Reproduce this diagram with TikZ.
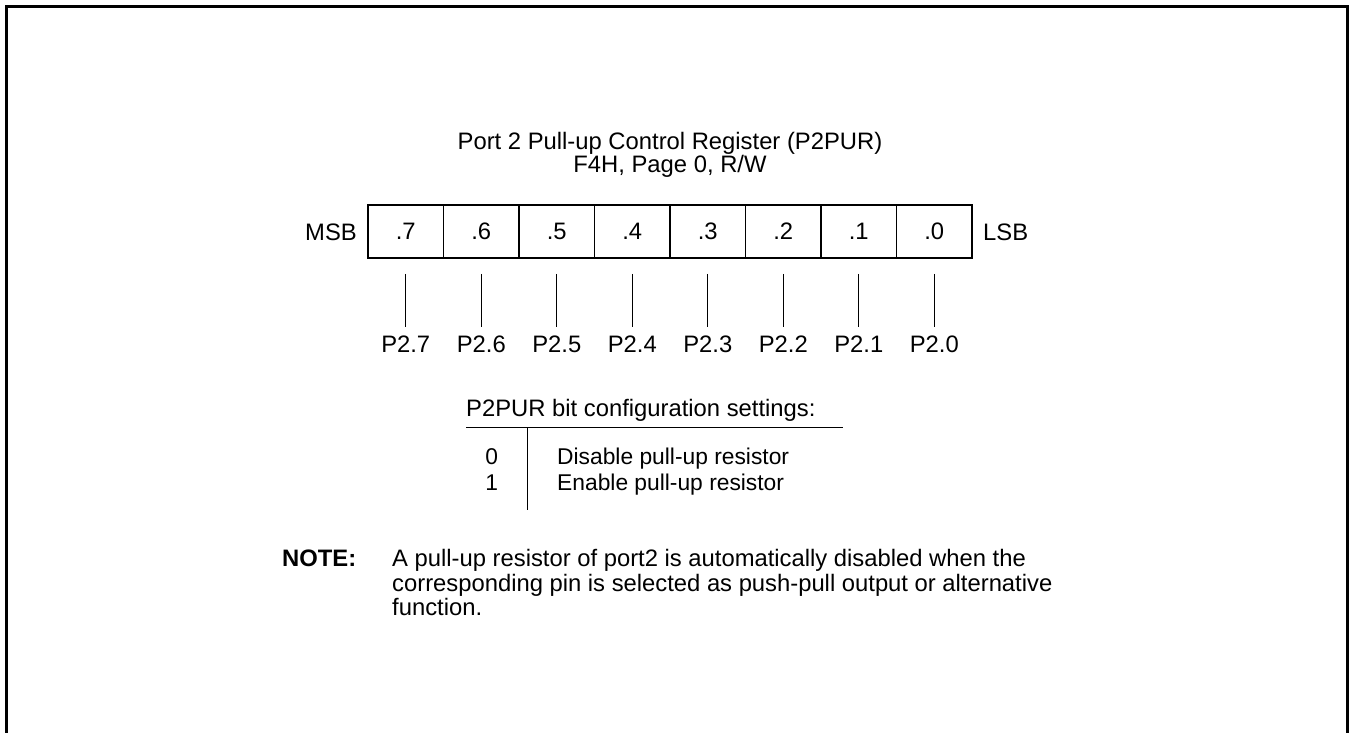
\documentclass[tikz,border=0pt]{standalone}
\usepackage{fontspec}
\setmainfont{Liberation Sans}
\begin{document}
\begin{tikzpicture}[x=1pt,y=-1pt,
  txt/.style={inner sep=0pt, font=\fontsize{23.8}{28}\selectfont},
  rowtxt/.style={inner sep=0pt, font=\fontsize{22.8}{27}\selectfont},
  cell/.style={draw, line width=1.6pt, minimum width=75.5pt, minimum height=52.7pt, inner sep=0pt, font=\fontsize{23.8}{28}\selectfont},
  frameline/.style={line width=2.8pt},
  pinline/.style={line width=1.4pt},
  tabline/.style={line width=1.6pt}]
\useasboundingbox (0,0) rectangle (1349,733);
% frame (bottom open)
\coordinate (fbl) at (6.7,740);
\coordinate (ftl) at (6.7,6.3);
\coordinate (ftr) at (1347.8,6.3);
\coordinate (fbr) at (1347.8,740);
\draw[frameline] (fbl) -- (ftl) -- (ftr) -- (fbr);
% title
\node[txt, anchor=base] (title) at (670,149.5) {Port 2 Pull-up Control Register (P2PUR)};
\node[txt, anchor=base] (addr) at (670,172) {F4H, Page 0, R/W};
% register cells
\foreach \i/\b in {0/7,1/6,2/5,3/4,4/3,5/2,6/1,7/0} {
  \node[cell] (c\b) at ({405.75+75.5*\i},231.35) {.\b};
  \node[txt, anchor=base] (p\b) at ({405.75+75.5*\i},352.7) {P2.\b};
  \draw[pinline] ([yshift=-15.3pt]c\b.south) -- ([yshift=9.3pt]p\b.north);
}
\node[txt, anchor=base east] (msb) at (357,240) {MSB};
\node[txt, anchor=base west] (lsb) at (983,240) {LSB};
% settings table
\node[txt, anchor=base west] (sethead) at (466,416.7) {P2PUR bit configuration settings:};
\coordinate (hl) at (466,427.3);
\coordinate (hr) at (843,427.3);
\draw[tabline] (hl) -- (hr);
\coordinate (vt) at (527.3,427.3);
\coordinate (vb) at (527.3,510);
\draw[tabline] (vt) -- (vb);
\node[rowtxt, anchor=base] (v0) at (491.7,464.3) {0};
\node[rowtxt, anchor=base] (v1) at (491.7,490) {1};
\node[rowtxt, anchor=base west] (d0) at (557,464.3) {Disable pull-up resistor};
\node[rowtxt, anchor=base west] (d1) at (557,490) {Enable pull-up resistor};
% note
\node[txt, anchor=base west, font=\fontsize{23.8}{28}\selectfont\bfseries] (note) at (282,566.7) {NOTE:};
\node[txt, anchor=base west] (n1) at (392,566.7) {A pull-up resistor of port2 is automatically disabled when the};
\node[txt, anchor=base west] (n2) at (392,591.2) {corresponding pin is selected as push-pull output or alternative};
\node[txt, anchor=base west] (n3) at (392,615.7) {function.};
\end{tikzpicture}
\end{document}
